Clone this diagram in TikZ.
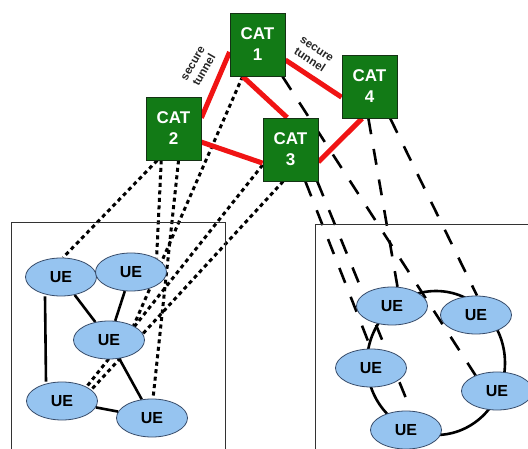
\documentclass[tikz,border=0pt]{standalone}
\usepackage{fontspec}
\setmainfont{Liberation Sans}
\usetikzlibrary{shapes.geometric}
\pgfdeclarelayer{bg}
\pgfsetlayers{bg,main}
\definecolor{catgreen}{RGB}{18,122,22}
\definecolor{catedge}{RGB}{20,50,20}
\definecolor{uefill}{RGB}{150,196,240}
\definecolor{ueedge}{RGB}{55,75,105}
\definecolor{tunnelred}{RGB}{240,20,20}
\tikzset{
  cat/.style={draw=catedge, line width=0.8pt, fill=catgreen, minimum width=55pt, minimum height=63pt,
    inner sep=0pt, align=center, text=white, font=\fontsize{17}{21}\selectfont\bfseries},
  ue/.style={ellipse, draw=ueedge, line width=0.8pt, fill=uefill, minimum width=71pt, minimum height=38pt,
    inner sep=0pt, font=\fontsize{16}{18}\selectfont\bfseries},
  tunnel/.style={draw=tunnelred, line width=5pt},
  dotlink/.style={draw=black, line width=3pt, dash pattern=on 4pt off 3.5pt},
  dashlink/.style={draw=black, line width=2.6pt, dash pattern=on 16pt off 15pt},
  uelink/.style={draw=black, line width=2.6pt},
  frame/.style={draw=black!80, line width=0.9pt},
  lbl/.style={font=\fontsize{11.5}{13}\selectfont\bfseries, text=black!85, align=center, inner sep=0pt}
}
\begin{document}
\begin{tikzpicture}[x=1pt,y=-1pt]
\useasboundingbox (0,0) rectangle (528,449);
\clip (0,0) rectangle (528,449);
% frames
\draw[frame] (11,222.7) rectangle (225,470);
\draw[frame] (315.7,224) rectangle (560,470);
% CAT nodes
\node[cat] (cat1) at (257.5,44.5) {CAT\\1};
\node[cat] (cat2) at (173.5,128.5) {CAT\\2};
\node[cat] (cat3) at (290.5,149.5) {CAT\\3};
\node[cat] (cat4) at (369.5,86.5) {CAT\\4};
% labels
\node[lbl, rotate=60] (lt1) at (199,67) {secure\\tunnel};
\node[lbl, rotate=-33] (lt2) at (313,55) {secure\\tunnel};
% left UEs
\node[ue] (a) at (61,277) {UE};
\node[ue] (b) at (131,272) {UE};
\node[ue] (c) at (109,340) {UE};
\node[ue] (d) at (62,401) {UE};
\node[ue] (e) at (152,418) {UE};
% right UEs
\node[ue] (f) at (392,306) {UE};
\node[ue] (g) at (476,315) {UE};
\node[ue] (h) at (371,368) {UE};
\node[ue] (i) at (497,391) {UE};
\node[ue] (j) at (406,430) {UE};
\coordinate (ringc) at (436,363);
\begin{pgfonlayer}{bg}
\fill[white] (0,0) rectangle (528,449);
% dotted links
\draw[dotlink] (cat2.-117.6) -- (a.84);
\draw[dotlink] (cat2.-111.6) -- (b.28);
\draw[dotlink] (cat2.-81.9) -- (e.87);
\draw[dotlink] (cat1.-115.5) -- (c.30);
\draw[dotlink] (cat3.209.4) -- (d.30);
\draw[dotlink] (cat3.-103.4) -- (d.21);
% dashed links
\draw[dashlink] (cat1.-52) -- (i.144);
\draw[dashlink] (cat4.-92.7) -- (f.74.5);
\draw[dashlink] (cat4.-57.8) -- (g.87);
\draw[dashlink] (cat3.-65.3) -- (h.90);
\draw[dashlink] (cat3.-50) -- (j.75);
% UE links left
\draw[uelink] ([xshift=-16pt]a.south) -- ([xshift=-16pt]d.north);
\draw[uelink] (a) -- (c);
\draw[uelink] (b) -- (c);
\draw[uelink] (c) -- (e);
\draw[uelink] (d) -- (e);
% ring right
\draw[uelink] (ringc) circle[x radius=69, y radius=72];
% red tunnels
\draw[tunnel] (cat1.195) -- (cat2.21);
\draw[tunnel] (cat1.-115) -- (cat3.96);
\draw[tunnel] (cat1.-29) -- (cat4.201);
\draw[tunnel] (cat2.-26) -- (cat3.206);
\draw[tunnel] (cat3.-24) -- (cat4.257);
\end{pgfonlayer}
\end{tikzpicture}
\end{document}
